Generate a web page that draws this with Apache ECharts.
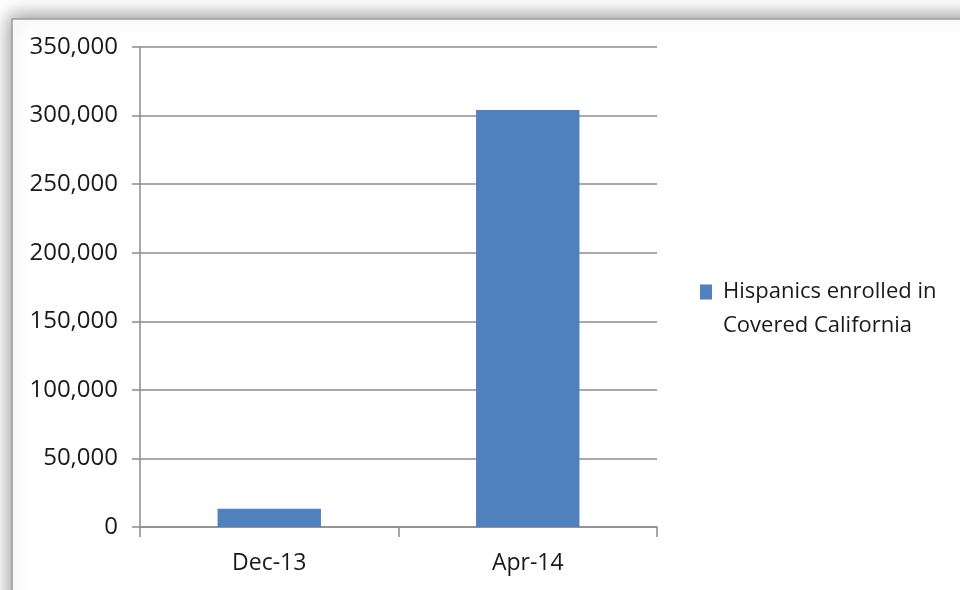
<!DOCTYPE html>
<html>
<head>
<meta charset="utf-8">
<script src="https://cdn.jsdelivr.net/npm/echarts@6/dist/echarts.min.js"></script>
<style>
  html, body { margin: 0; padding: 0; background: #ffffff; }
  #chart { width: 960px; height: 590px; }
</style>
</head>
<body>
<div id="chart"></div>
<script>
// Enrollment counts by month
const categories = ['Dec-13', 'Apr-14'];
const enrolled = [13300, 304000];
const seriesName = 'Hispanics enrolled in Covered California';
const legendLines = ['Hispanics enrolled in', 'Covered California'];
const yTicks = { min: 0, max: 350000, interval: 50000 };

const FONT = '"Open Sans"';
const AXIS_GRAY = '#8c8c8c';
const TEXT = '#1a1a1a';
const LEGEND_LINE = 34;
const LEGEND_SIZE = 22;

const chart = echarts.init(document.getElementById('chart'));

chart.setOption({
  backgroundColor: '#ffffff',
  animation: false,
  graphic: [
    {
      // chart-area frame with a soft drop shadow on its top-left edges
      type: 'rect',
      z: -10,
      silent: true,
      shape: { x: 12, y: 19, width: 1000, height: 640 },
      style: {
        fill: '#ffffff',
        stroke: '#9a9a9a',
        lineWidth: 1.5,
        shadowBlur: 18,
        shadowColor: 'rgba(0,0,0,0.4)',
        shadowOffsetX: -2,
        shadowOffsetY: -3
      }
    }
  ],
  grid: { left: 140, right: 303, top: 47, bottom: 63, containLabel: false },
  legend: {
    left: 695,
    top: 242,
    orient: 'vertical',
    icon: 'rect',
    itemWidth: 12,
    itemHeight: 15,
    itemGap: 6,
    // an empty spacer row above the two text rows keeps the swatch level with the first row
    formatter: () => '{s| }\n{t|' + legendLines[0] + '}\n{t|' + legendLines[1] + '}',
    textStyle: {
      fontFamily: FONT,
      fontSize: LEGEND_SIZE,
      color: TEXT,
      rich: {
        s: { lineHeight: LEGEND_LINE, fontSize: LEGEND_SIZE, fontFamily: FONT },
        t: { lineHeight: LEGEND_LINE, fontSize: LEGEND_SIZE, fontFamily: FONT, color: TEXT, padding: [0, 0, 0, 6] }
      }
    },
    data: [seriesName]
  },
  xAxis: {
    type: 'category',
    data: categories,
    boundaryGap: true,
    axisLine: { lineStyle: { color: AXIS_GRAY, width: 1.5 } },
    axisTick: { show: true, alignWithLabel: false, length: 10, lineStyle: { color: AXIS_GRAY, width: 1.5 } },
    axisLabel: { margin: 25, fontFamily: FONT, fontSize: 23, color: TEXT }
  },
  yAxis: {
    type: 'value',
    min: yTicks.min,
    max: yTicks.max,
    interval: yTicks.interval,
    axisLine: { show: true, lineStyle: { color: AXIS_GRAY, width: 1.5 } },
    axisTick: { show: true, length: 8, lineStyle: { color: AXIS_GRAY, width: 1.5 } },
    splitLine: { show: true, lineStyle: { color: AXIS_GRAY, width: 1.5 } },
    axisLabel: {
      margin: 22,
      fontFamily: FONT,
      fontSize: 24,
      color: TEXT,
      formatter: v => v.toLocaleString('en-US')
    }
  },
  series: [
    {
      name: seriesName,
      type: 'bar',
      data: enrolled,
      barWidth: '40%',
      itemStyle: { color: '#4f81bd' }
    }
  ]
});
</script>
</body>
</html>
